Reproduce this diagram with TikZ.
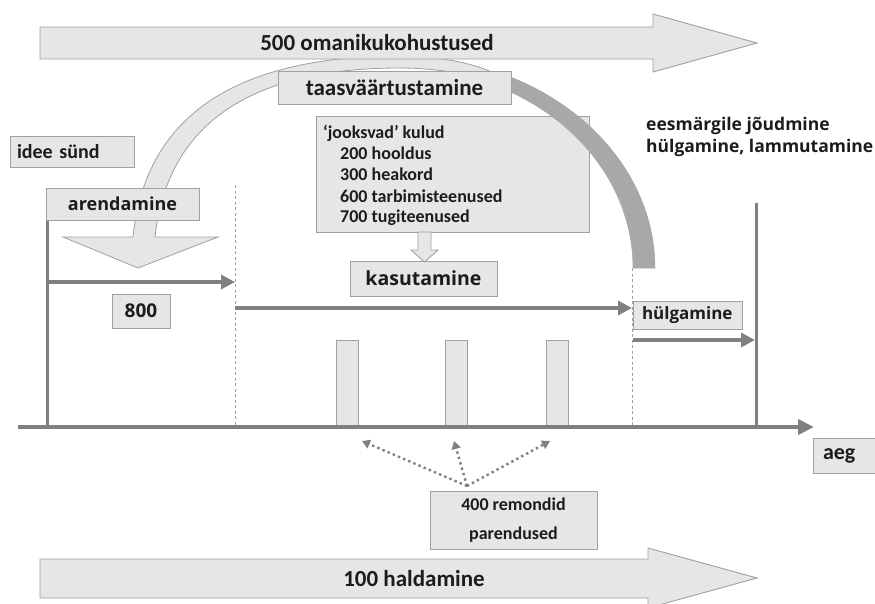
\documentclass[tikz,border=0pt]{standalone}
\usepackage{fontspec}
\setmainfont{Carlito}
\newfontfamily\osans{Open Sans}
\usetikzlibrary{arrows.meta}
\definecolor{boxfill}{HTML}{E6E6E6}
\definecolor{boxline}{HTML}{A0A0A0}
\definecolor{linegray}{HTML}{808080}
\definecolor{darkband}{HTML}{A8A8A8}
\definecolor{txt}{HTML}{1C1C1C}
\begin{document}
\begin{tikzpicture}[x=1pt,y=-1pt,
  box/.style={draw=boxline, fill=boxfill, line width=0.9pt, inner sep=0pt, text=txt},
  shapefill/.style={draw=boxline, fill=boxfill, line width=0.9pt},
  plain/.style={text=txt, inner sep=0pt},
  solidline/.style={draw=linegray, line width=3pt},
  timearrow/.style={draw=linegray, line width=4pt, -{Triangle[length=14pt,width=14pt]}},
  phaseline/.style={draw=boxline, line width=0.8pt, dash pattern=on 3pt off 2.5pt},
  dotarrow/.style={draw=linegray, line width=2.4pt, dash pattern=on 2.4pt off 3.2pt, -{Triangle[length=8pt,width=9pt]}},
  fcal/.style={font=\bfseries\fontsize{#1}{#1}\selectfont},
  fos/.style={font=\osans\bfseries\fontsize{#1}{#1}\selectfont}
]
\useasboundingbox (0,0) rectangle (875,603);

% light curved arrow (left half of the arc) ending in a down arrow
\path[shapefill, line width=0.8pt]
  (138,268) -- (218,237) -- (155,237)
  .. controls (167,128) and (245,68) .. (400,68)
  .. controls (430,68) and (460,72) .. (482,80)
  -- (494,73)
  .. controls (470,62) and (440,57) .. (400,56)
  .. controls (230,56) and (145,120) .. (133,237)
  -- (63,237) -- cycle;

% running costs box
\node[box, minimum width=273pt, minimum height=116pt] (costs) at (452.5,174) {};
\node[plain, fcal=18, anchor=base west] (c0) at (323,138) {‘jooksvad’ kulud};
\node[plain, fcal=18, anchor=base west] (c1) at (340,159) {200 hooldus};
\node[plain, fcal=18, anchor=base west] (c2) at (340,180) {300 heakord};
\node[plain, fcal=18, anchor=base west] (c3) at (340,202) {600 tarbimisteenused};
\node[plain, fcal=18, anchor=base west] (c4) at (340,222) {700 tugiteenused};

% dark band (right half of the arc)
\path[fill=darkband, draw=darkband, line width=0.5pt]
  plot[domain=-68:0, samples=50] ({400+255*cos(\x)},{268+212*sin(\x)})
  -- plot[domain=0:-68, samples=50] ({400+233*cos(\x)},{268+200*sin(\x)}) -- cycle;

\node[box, fcal=23, minimum width=233pt, minimum height=33pt] (reval) at (394.5,87.5) {taasväärtustamine};

% top and bottom block arrows
\path[shapefill] (40,27) -- (653,27) -- (653,14) -- (757,43) -- (653,72) -- (653,59) -- (40,59) -- cycle;
\node[plain, fcal=23] (owner) at (377,43) {500 omanikukohustused};
\path[shapefill] (40,559) -- (648,559) -- (648,548) -- (757,578) -- (648,608) -- (648,598) -- (40,598) -- cycle;
\node[plain, fcal=23] (mgmt) at (414,579) {100 haldamine};

% labels
\node[box, fcal=20, minimum width=124pt, minimum height=31pt, text width=110pt, align=left, inner xsep=7pt] (idea) at (72,151.5) {idee sünd};
\node[plain, anchor=west, align=left, font=\osans\bfseries\fontsize{17.5}{22}\selectfont] (goal) at (646,137) {eesmärgile jõudmine\\hülgamine, lammutamine};

% vertical lines
\coordinate (v1a) at (47,192); \coordinate (v1b) at (47,427);
\coordinate (v2a) at (756,203); \coordinate (v2b) at (756,427);
\coordinate (d1a) at (235,185); \coordinate (d1b) at (235,427);
\coordinate (d2a) at (632,268); \coordinate (d2b) at (632,427);
\draw[solidline] (v1a) -- (v1b);
\draw[solidline] (v2a) -- (v2b);
\draw[phaseline] (d1a) -- (d1b);
\draw[phaseline] (d2a) -- (d2b);

% repair bars
\node[box, minimum width=22pt, minimum height=87pt] (bar1) at (347,383.5) {};
\node[box, minimum width=22pt, minimum height=87pt] (bar2) at (456,383.5) {};
\node[box, minimum width=22pt, minimum height=87pt] (bar3) at (557,383.5) {};

% time axis and phase arrows
\coordinate (ax0) at (18,427); \coordinate (ax1) at (814,427);
\draw[timearrow, -{Triangle[length=16pt,width=15pt]}] (ax0) -- (ax1);
\coordinate (p1a) at (47,282); \coordinate (p1b) at (235,282);
\coordinate (p2a) at (235,308); \coordinate (p2b) at (632,308);
\coordinate (p3a) at (633,340); \coordinate (p3b) at (755,340);
\draw[timearrow] (p1a) -- (p1b);
\draw[timearrow] (p2a) -- (p2b);
\draw[timearrow] (p3a) -- (p3b);

% boxes on the time line
\node[box, fos=18, minimum width=153pt, minimum height=32pt] (dev) at (122.5,204) {arendamine};
\node[box, fos=19, minimum width=58pt, minimum height=34pt] (n800) at (141,311) {800};
\node[box, fos=19.5, minimum width=147pt, minimum height=35pt] (use) at (423.5,278.5) {kasutamine};
\path[shapefill] (418,232) -- (431,232) -- (431,250) -- (438,250) -- (424.5,262) -- (411,250) -- (418,250) -- cycle;
\node[box, fos=17, minimum width=109pt, minimum height=28pt, text width=91pt, align=left, inner xsep=9pt] (disp) at (687.5,315) {hülgamine};
\node[box, fcal=22, minimum width=62pt, minimum height=35pt, text width=42pt, align=left, inner xsep=10pt] (time) at (844,455.5) {aeg};
\node[box, font=\bfseries\fontsize{18}{29}\selectfont, minimum width=167pt, minimum height=58pt, align=center] (repair) at (513.5,520) {400 remondid\\parendused};

% dotted arrows to repairs
\coordinate (apex) at (467,486);
\coordinate (t1) at (362,441); \coordinate (t2) at (454,441); \coordinate (t3) at (550,441);
\draw[dotarrow] (apex) -- (t1);
\draw[dotarrow] (apex) -- (t2);
\draw[dotarrow] (apex) -- (t3);
\end{tikzpicture}
\end{document}
